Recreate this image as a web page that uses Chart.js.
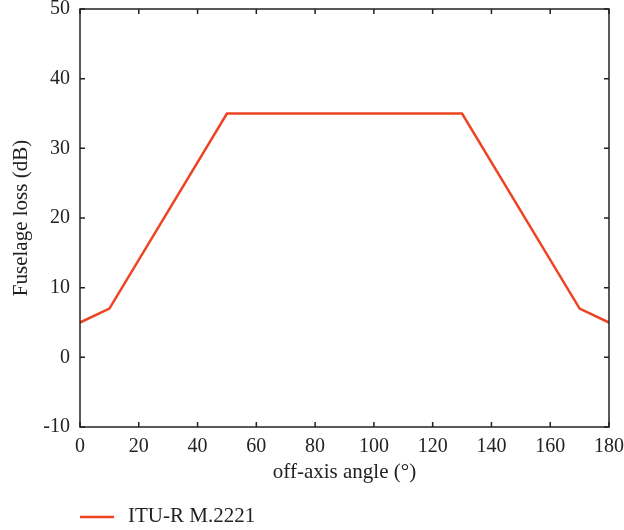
<!DOCTYPE html>
<html>
<head>
<meta charset="utf-8">
<script src="https://cdn.jsdelivr.net/npm/chart.js@4.4.1/dist/chart.umd.min.js"></script>
<style>
    html, body { margin: 0; padding: 0; background: #fff; }
    #wrap { width: 624px; height: 530px; }
</style>
</head>
<body>
<div id="wrap"><canvas id="chart" width="624" height="530"></canvas></div>
<script>
const angles = [0, 10, 50, 130, 170, 180];
const loss = [5, 7, 35, 35, 7, 5];
const seriesLabel = "ITU-R M.2221";
const xTicks = [0, 20, 40, 60, 80, 100, 120, 140, 160, 180];
const yTicks = [-10, 0, 10, 20, 30, 40, 50];

const lineColor = "#ed4524";
const ink = "#222";
const serif = "'Liberation Serif', 'DejaVu Serif', serif";

// box around the plot with inward ticks on all four sides, plus the legend under the axis title
const frame = {
    id: "frame",
    afterDraw(chart) {
        const { ctx, chartArea: a, scales: { x, y } } = chart;
        const len = 5;
        ctx.save();
        ctx.strokeStyle = ink;
        ctx.lineWidth = 1.5;
        ctx.strokeRect(a.left, a.top, a.right - a.left, a.bottom - a.top);
        ctx.beginPath();
        xTicks.forEach((v) => {
            const px = x.getPixelForValue(v);
            ctx.moveTo(px, a.bottom); ctx.lineTo(px, a.bottom - len);
            ctx.moveTo(px, a.top); ctx.lineTo(px, a.top + len);
        });
        yTicks.forEach((v) => {
            const py = y.getPixelForValue(v);
            ctx.moveTo(a.left, py); ctx.lineTo(a.left + len, py);
            ctx.moveTo(a.right, py); ctx.lineTo(a.right - len, py);
        });
        ctx.stroke();

        const ds = chart.data.datasets[0];
        ctx.strokeStyle = ds.borderColor;
        ctx.lineWidth = 2.5;
        ctx.beginPath();
        ctx.moveTo(80, 517); ctx.lineTo(114, 517);
        ctx.stroke();
        ctx.fillStyle = ink;
        ctx.font = "21px " + serif;
        ctx.textBaseline = "middle";
        ctx.fillText(ds.label, 128, 516);
        ctx.restore();
    }
};

new Chart(document.getElementById("chart"), {
    type: "line",
    data: {
        datasets: [{
            label: seriesLabel,
            data: angles.map((a, i) => ({ x: a, y: loss[i] })),
            borderColor: lineColor,
            backgroundColor: lineColor,
            borderWidth: 2.5,
            pointRadius: 0,
            tension: 0
        }]
    },
    options: {
        responsive: false,
        animation: false,
        layout: { padding: { top: 9, right: 15, bottom: 0, left: 0 } },
        plugins: { legend: { display: false }, tooltip: { enabled: false } },
        scales: {
            x: {
                type: "linear", min: 0, max: 180,
                afterBuildTicks: (s) => { s.ticks = xTicks.map((v) => ({ value: v })); },
                afterFit: (s) => { s.height = 103; s.paddingLeft = 0; s.paddingRight = 0; },
                grid: { display: false, drawTicks: false },
                border: { display: false },
                ticks: { padding: 8, color: ink, font: { family: serif, size: 20 } },
                title: { display: true, text: "off-axis angle (°)", color: ink, font: { family: serif, size: 21 }, padding: { top: 0, bottom: 45 } }
            },
            y: {
                type: "linear", min: -10, max: 50,
                afterBuildTicks: (s) => { s.ticks = yTicks.map((v) => ({ value: v })); },
                afterFit: (s) => { s.width = 80; s.paddingTop = 0; s.paddingBottom = 0; },
                grid: { display: false, drawTicks: false },
                border: { display: false },
                ticks: { padding: 10, color: ink, font: { family: serif, size: 20 } },
                title: { display: true, text: "Fuselage loss (dB)", color: ink, font: { family: serif, size: 21 }, padding: { top: 9, bottom: 0 } }
            }
        }
    },
    plugins: [frame]
});
</script>
</body>
</html>
